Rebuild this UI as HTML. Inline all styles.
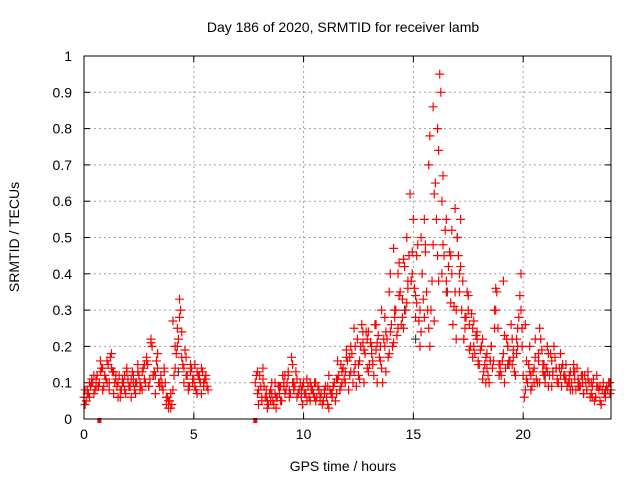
<!DOCTYPE html>
<html><head><meta charset="utf-8"><style>
body{margin:0;background:#fff}
svg{display:block;font-family:"Liberation Sans",sans-serif}
</style></head><body>
<svg id="chart" width="640" height="480">
<rect width="640" height="480" fill="#fff"/>
<text x="343" y="32" font-size="14" text-anchor="middle">Day 186 of 2020, SRMTID for receiver lamb</text>
<g id="grid"></g>
<g id="ticks"></g>
<g id="marks"></g>
<rect x="84" y="56" width="527" height="363" fill="none" stroke="#000"/>
<text x="343" y="471" font-size="14" text-anchor="middle">GPS time / hours</text>
<text transform="translate(19,237) rotate(-90)" font-size="14" text-anchor="middle">SRMTID / TECUs</text>
</svg>
<script>
const xTicks=[0,5,10,15,20];
const yTicks=[0,0.1,0.2,0.3,0.4,0.5,0.6,0.7,0.8,0.9,1];
const yTickLabels=["0","0.1","0.2","0.3","0.4","0.5","0.6","0.7","0.8","0.9","1"];
const a1Start=0, a1Step=0.1;
const a1Vals=[0.06,0.05,0.07,0.09,0.1,0.08,0.12,0.1,0.14,0.09,0.11,0.15,0.17,0.13,0.1,0.09,0.12,0.08,0.1,0.07,0.11,0.09,0.13,0.08,0.1,0.12,0.09,0.14,0.1,0.15,0.11,0.2,0.13,0.16,0.1,0.12,0.08,0.1,0.06,0.05,0.04,0.12,0.18,0.22,0.3,0.15,0.19,0.12,0.09,0.14,0.11,0.08,0.12,0.1,0.13,0.11,0.09];
const a2Start=7.8, a2Step=0.1;
const a2Vals=[0.1,0.07,0.12,0.05,0.09,0.06,0.04,0.08,0.05,0.07,0.06,0.09,0.05,0.1,0.08,0.12,0.07,0.15,0.09,0.11,0.08,0.06,0.1,0.07,0.09,0.05,0.08,0.1,0.06,0.08,0.07,0.05,0.09,0.04,0.08,0.06,0.1,0.07,0.12,0.09,0.14,0.1,0.16,0.12,0.18,0.13,0.09,0.15,0.2,0.24,0.18,0.22,0.15,0.2,0.12,0.19,0.23,0.16,0.1,0.2,0.22,0.18,0.26,0.21,0.3,0.25,0.35,0.28,0.42,0.32,0.45,0.38,0.55,0.34,0.48,0.3,0.4,0.28,0.35,0.25,0.3,0.48,0.65,0.8,0.95,0.6,0.45,0.38,0.42,0.32,0.26,0.35,0.5,0.4,0.3,0.22,0.28,0.34,0.2,0.25,0.18,0.22,0.15,0.2,0.13,0.17,0.12,0.16,0.14,0.3,0.35,0.15,0.12,0.18,0.14,0.2,0.16,0.22,0.13,0.18,0.28,0.4,0.12,0.08,0.1,0.13,0.09,0.14,0.11,0.18,0.22,0.15,0.1,0.13,0.12,0.16,0.2,0.14,0.1,0.12,0.15,0.11,0.09,0.12,0.1,0.13,0.08,0.11,0.09,0.1,0.12,0.08,0.1,0.07,0.11,0.06,0.09,0.05,0.08,0.07,0.09,0.1,0.08];
const b1Start=0.05, b1Step=0.2;
const b1Vals=[0.08,0.1,0.12,0.09,0.14,0.1,0.18,0.11,0.08,0.12,0.09,0.1,0.13,0.08,0.16,0.21,0.12,0.09,0.14,0.05,0.08,0.25,0.17,0.12,0.15,0.09,0.12,0.1];
const b2Start=7.9, b2Step=0.2;
const b2Vals=[0.13,0.06,0.08,0.05,0.1,0.07,0.09,0.13,0.1,0.06,0.08,0.07,0.1,0.06,0.08,0.05,0.09,0.07,0.11,0.15,0.13,0.17,0.25,0.12,0.21,0.14,0.18,0.26,0.2,0.28,0.35,0.47,0.4,0.33,0.5,0.38,0.28,0.2,0.55,0.7,0.86,0.45,0.4,0.55,0.45,0.58,0.35,0.22,0.3,0.17,0.24,0.2,0.1,0.16,0.25,0.12,0.38,0.2,0.15,0.22,0.3,0.26,0.2,0.1,0.16,0.13,0.2,0.09,0.14,0.18,0.12,0.1,0.15,0.09,0.12,0.08,0.1,0.06,0.09,0.07,0.1];
const c1Start=0.05, c1Step=0.1;
const c1Vals=[0.04,0.08,0.06,0.1,0.07,0.11,0.09,0.13,0.08,0.12,0.16,0.1,0.14,0.07,0.12,0.1,0.06,0.11,0.08,0.13,0.09,0.06,0.12,0.1,0.15,0.08,0.13,0.11,0.17,0.09,0.22,0.12,0.07,0.14,0.1,0.09,0.13,0.04,0.03,0.07,0.27,0.14,0.2,0.33,0.24,0.1,0.17,0.08,0.13,0.1,0.15,0.07,0.11,0.14,0.09,0.12,0.08];
const c2Start=7.85, c2Step=0.1;
const c2Vals=[0.12,0.04,0.09,0.14,0.06,0.03,0.07,0.1,0.04,0.06,0.09,0.05,0.12,0.07,0.1,0.06,0.17,0.08,0.13,0.07,0.1,0.04,0.07,0.11,0.06,0.09,0.07,0.05,0.09,0.06,0.04,0.08,0.06,0.03,0.07,0.09,0.05,0.11,0.08,0.13,0.11,0.17,0.08,0.2,0.1,0.15,0.22,0.11,0.26,0.19,0.24,0.13,0.21,0.16,0.26,0.1,0.17,0.14,0.22,0.13,0.17,0.24,0.2,0.28,0.23,0.34,0.26,0.44,0.3,0.38,0.62,0.4,0.36,0.45,0.27,0.5,0.33,0.46,0.3,0.2,0.38,0.27,0.55,0.74,0.9,0.67,0.52,0.35,0.46,0.4,0.31,0.22,0.45,0.55,0.38,0.28,0.35,0.26,0.29,0.2,0.23,0.16,0.19,0.11,0.15,0.18,0.1,0.2,0.16,0.36,0.25,0.13,0.16,0.1,0.22,0.15,0.26,0.17,0.12,0.2,0.34,0.25,0.06,0.11,0.15,0.08,0.13,0.17,0.1,0.25,0.19,0.12,0.14,0.09,0.18,0.13,0.17,0.11,0.14,0.09,0.12,0.15,0.1,0.13,0.08,0.11,0.14,0.09,0.12,0.07,0.1,0.13,0.06,0.09,0.05,0.12,0.08,0.04,0.1,0.06,0.08,0.1];
const e1Start=0.15, e1Step=0.2;
const e1Vals=[0.07,0.11,0.09,0.16,0.12,0.08,0.13,0.06,0.1,0.14,0.11,0.07,0.1,0.15,0.09,0.12,0.18,0.1,0.06,0.03,0.2,0.28,0.14,0.09,0.11,0.13,0.07,0.11];
const e2Start=7.95, e2Step=0.2;
const e2Vals=[0.08,0.11,0.05,0.07,0.03,0.09,0.12,0.08,0.1,0.07,0.09,0.05,0.08,0.1,0.05,0.07,0.12,0.09,0.16,0.1,0.19,0.13,0.2,0.16,0.1,0.24,0.15,0.21,0.3,0.24,0.4,0.3,0.43,0.25,0.36,0.46,0.32,0.24,0.48,0.78,0.62,0.38,0.48,0.35,0.52,0.3,0.42,0.25,0.19,0.27,0.15,0.22,0.14,0.2,0.3,0.15,0.23,0.16,0.19,0.25,0.2,0.16,0.12,0.22,0.1,0.15,0.18,0.12,0.1,0.14,0.11,0.08,0.13,0.1,0.07,0.11,0.06,0.09,0.04,0.08,0.07];
const darkTimes=[4.3,14.6,15.1,16.5,17.0,19.3,21.0,22.5];
const darkVals=[0.13,0.3,0.22,0.35,0.5,0.15,0.12,0.09];
const zeroTimes=[0.7,7.8];

const NS="http://www.w3.org/2000/svg";
const X0=84,X1=611,Y0=419,Y1=56;
const xs=t=>X0+(t/24)*(X1-X0);
const ys=v=>Y0-v*(Y0-Y1);
function mk(tag,at,parent){const e=document.createElementNS(NS,tag);for(const k in at)e.setAttribute(k,at[k]);parent.appendChild(e);return e;}
const grid=document.getElementById('grid'),ticks=document.getElementById('ticks'),marks=document.getElementById('marks');
xTicks.forEach(t=>{
  const x=xs(t);
  if(t>0){const g=mk('line',{x1:x,x2:x,y1:Y1,y2:Y0,stroke:'#a0a0a0','stroke-dasharray':'2,3'},grid);
  
  }
  mk('line',{x1:x,x2:x,y1:Y0,y2:Y0-6,stroke:'#000'},ticks);
  mk('line',{x1:x,x2:x,y1:Y1,y2:Y1+6,stroke:'#000'},ticks);
  const l=mk('text',{x:x,y:Y0+20,'font-size':14,'text-anchor':'middle'},ticks);l.textContent=t;
  
  
});
yTicks.forEach((v,i)=>{
  const y=ys(v);
  if(v>0&&v<1){const g=mk('line',{x1:X0,x2:X1,y1:y,y2:y,stroke:'#a0a0a0','stroke-dasharray':'2,3'},grid);
  
  }
  mk('line',{x1:X0,x2:X0+6,y1:y,y2:y,stroke:'#000'},ticks);
  mk('line',{x1:X1,x2:X1-6,y1:y,y2:y,stroke:'#000'},ticks);
  const l=mk('text',{x:X0-12,y:y+5,'font-size':14,'text-anchor':'end'},ticks);l.textContent=yTickLabels[i];
  
  
});
function cross(t,v,col){
  const x=xs(t),y=ys(v);
  const p=mk('path',{d:`M${x-4.5},${y}H${x+4.5}M${x},${y-4.5}V${y+4.5}`,stroke:col,'stroke-width':1.2,fill:'none'},marks);
  
  
}
darkVals.forEach((v,i)=>cross(darkTimes[i],v,'#404040'));
[[a1Start,a1Step,a1Vals],[a2Start,a2Step,a2Vals],[b1Start,b1Step,b1Vals],[b2Start,b2Step,b2Vals],[c1Start,c1Step,c1Vals],[c2Start,c2Step,c2Vals],[e1Start,e1Step,e1Vals],[e2Start,e2Step,e2Vals]].forEach(([s,st,vals])=>{
  vals.forEach((v,i)=>cross(s+i*st,v,'#ff0000'));
});
zeroTimes.forEach(t=>{
  const r=mk('rect',{x:xs(t)-2,y:Y0-1,width:4,height:5,fill:'#ff0000'},marks);
  
  
});
</script>
</body></html>
